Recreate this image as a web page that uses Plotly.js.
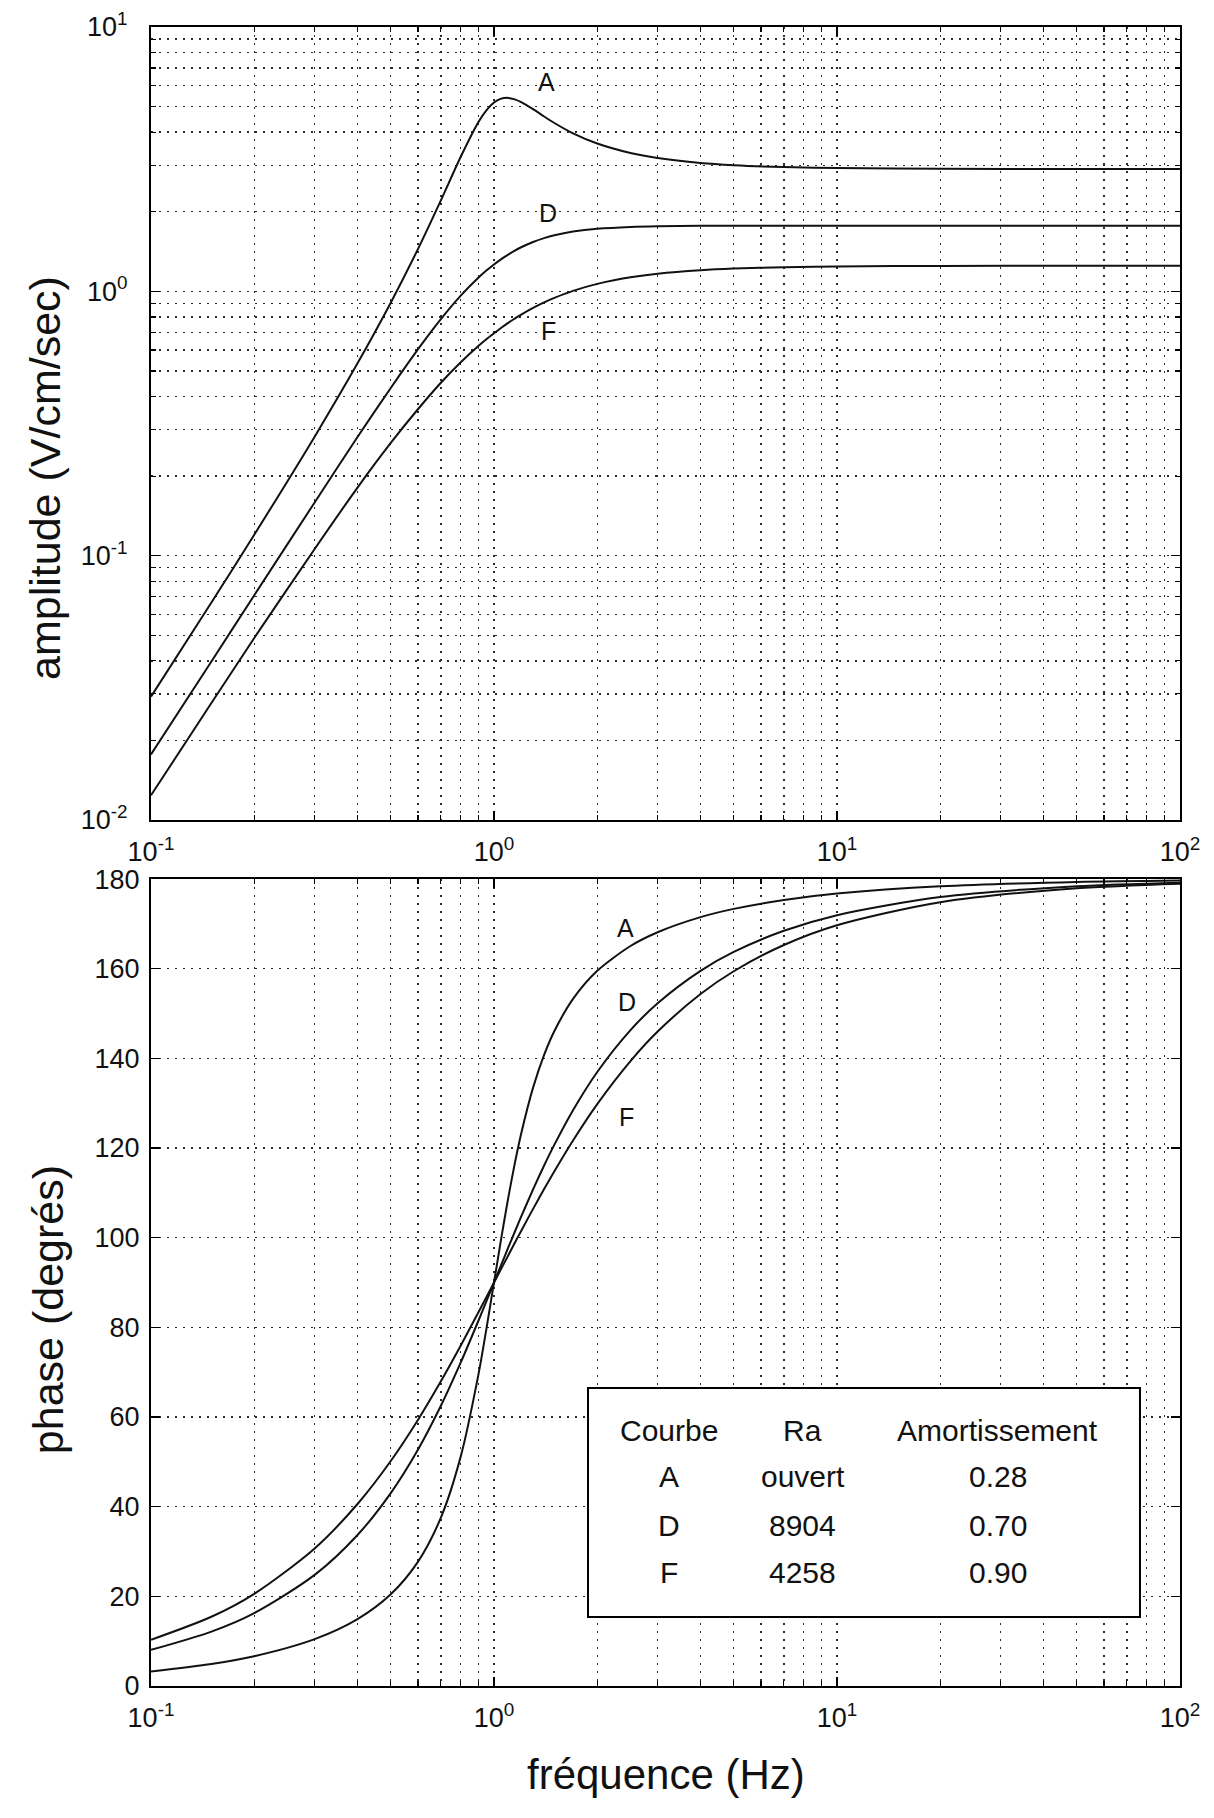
<!DOCTYPE html>
<html>
<head>
<meta charset="utf-8">
<script src="https://cdn.plot.ly/plotly-3.0.1.min.js"></script>
<style>
  html, body { margin: 0; padding: 0; background: #fff; }
  #chart { width: 1214px; height: 1818px; }
</style>
</head>
<body>
<div id="chart"></div>
<script>
// ---- data ----
const freq = [0.1, 0.15, 0.2, 0.3, 0.4, 0.5, 0.6, 0.7, 0.8, 0.9, 0.95, 1.0, 1.05, 1.1, 1.15, 1.2, 1.3, 1.4, 1.5, 1.7, 2, 2.5, 3, 4, 5, 7, 10, 20, 50, 100];

const ampA = [0.0293, 0.0665, 0.120, 0.282, 0.534, 0.906, 1.444, 2.209, 3.229, 4.361, 4.839, 5.179, 5.357, 5.392, 5.325, 5.199, 4.886, 4.586, 4.333, 3.960, 3.623, 3.336, 3.193, 3.059, 3.001, 2.951, 2.925, 2.906, 2.901, 2.900];
const ampD = [0.0177, 0.0398, 0.0708, 0.159, 0.281, 0.431, 0.603, 0.785, 0.963, 1.125, 1.198, 1.264, 1.324, 1.378, 1.426, 1.468, 1.537, 1.590, 1.630, 1.683, 1.725, 1.753, 1.763, 1.769, 1.770, 1.770, 1.770, 1.770, 1.770, 1.770];
const ampF = [0.0124, 0.0277, 0.0488, 0.106, 0.181, 0.267, 0.358, 0.451, 0.539, 0.621, 0.659, 0.694, 0.728, 0.760, 0.789, 0.817, 0.866, 0.909, 0.945, 1.004, 1.067, 1.130, 1.166, 1.202, 1.219, 1.234, 1.242, 1.248, 1.250, 1.250];

const phaseA = [3.24, 4.91, 6.65, 10.46, 14.93, 20.47, 27.70, 37.55, 51.22, 69.35, 79.61, 90, 99.89, 108.82, 116.60, 123.21, 133.47, 140.76, 146.10, 153.27, 159.53, 165.07, 168.14, 171.51, 173.35, 175.33, 176.76, 178.39, 179.36, 179.68];
const phaseD = [8.05, 12.13, 16.26, 24.78, 33.69, 43.03, 52.70, 62.51, 72.18, 81.42, 85.81, 90, 93.99, 97.77, 101.33, 104.68, 110.76, 116.10, 120.76, 128.45, 136.97, 146.31, 152.30, 159.53, 163.74, 168.46, 171.95, 175.99, 178.40, 179.20];
const phaseF = [10.30, 15.44, 20.56, 30.68, 40.60, 50.19, 59.35, 67.96, 75.96, 83.31, 86.74, 90, 93.10, 96.05, 98.86, 101.51, 106.43, 110.85, 114.84, 121.70, 129.81, 139.40, 145.98, 154.36, 159.44, 165.29, 169.70, 174.84, 177.94, 178.97];

const curveNames = ['A', 'D', 'F'];
const raValues = ['ouvert', '8904', '4258'];
const dampValues = ['0.28', '0.70', '0.90'];
const tableHeader = ['Courbe', 'Ra', 'Amortissement'];

const freqTickVals = [0.1, 1, 10, 100];
const freqTickText = ['10<sup>-1</sup>', '10<sup>0</sup>', '10<sup>1</sup>', '10<sup>2</sup>'];
const ampTickVals = [0.01, 0.1, 1, 10];
const ampTickText = ['10<sup>-2</sup>', '10<sup>-1</sup>', '10<sup>0</sup>', '10<sup>1</sup>'];
const phaseTickVals = [0, 20, 40, 60, 80, 100, 120, 140, 160, 180];

// curve label anchors (data units)
const ampLabelFreq = [1.42, 1.44, 1.44];
const ampLabelVal = [6.2, 1.98, 0.71];
const phaseLabelFreq = [2.42, 2.44, 2.44];
const phaseLabelVal = [169, 152.5, 127];

// ---- build ----
function minorLog(lo, hi) {
  const v = [];
  for (let e = lo; e < hi; e++) for (let d = 2; d <= 9; d++) v.push(d * Math.pow(10, e));
  return v;
}

const FONT = 'Liberation Sans, Arial, Helvetica, sans-serif';
const GRIDC = '#2a2a2a';
const GRIDDASH = '2px,6px';
const GRIDW = 1.4;
const TICKFONT = { family: FONT, size: 27, color: '#111' };

const ampSeries = [ampA, ampD, ampF];
const phaseSeries = [phaseA, phaseD, phaseF];

const traces = [];
ampSeries.forEach((s, i) => traces.push({
  x: freq, y: s, xaxis: 'x', yaxis: 'y', type: 'scatter', mode: 'lines',
  name: curveNames[i], line: { color: '#111', width: 2, shape: 'spline', smoothing: 0.8 },
  hoverinfo: 'skip'
}));
phaseSeries.forEach((s, i) => traces.push({
  x: freq, y: s, xaxis: 'x2', yaxis: 'y2', type: 'scatter', mode: 'lines',
  name: curveNames[i], line: { color: '#111', width: 2, shape: 'spline', smoothing: 0.8 },
  hoverinfo: 'skip'
}));

function logXAxis(anchor) {
  return {
    type: 'log', range: [-1, 2], anchor: anchor,
    tickmode: 'array', tickvals: freqTickVals, ticktext: freqTickText,
    ticks: 'inside', ticklen: 9, tickwidth: 1.5, tickcolor: '#000',
    ticklabelstandoff: 7,
    showline: true, linecolor: '#000', linewidth: 2, mirror: 'allticks',
    showgrid: true, gridcolor: GRIDC, griddash: GRIDDASH, gridwidth: GRIDW,
    zeroline: false,
    tickfont: TICKFONT,
    minor: {
      tickmode: 'array', tickvals: minorLog(-1, 2),
      ticks: 'inside', ticklen: 5, tickwidth: 1.2, tickcolor: '#000',
      showgrid: true, gridcolor: GRIDC, griddash: GRIDDASH, gridwidth: GRIDW
    }
  };
}

// plot box: x 151..1180 px, top plot 27..820 px, bottom plot 879..1686 px
const layout = {
  width: 1214, height: 1818,
  paper_bgcolor: '#fff', plot_bgcolor: '#fff',
  showlegend: false,
  margin: { l: 151, r: 34, t: 27, b: 132 },
  font: { family: FONT, color: '#111' },
  xaxis: logXAxis('y'),
  yaxis: {
    type: 'log', range: [-2, 1], domain: [0.522, 1], anchor: 'x',
    tickmode: 'array', tickvals: ampTickVals, ticktext: ampTickText,
    ticks: 'inside', ticklen: 9, tickwidth: 1.5, tickcolor: '#000',
    ticklabelstandoff: 16,
    showline: true, linecolor: '#000', linewidth: 2, mirror: 'allticks',
    showgrid: true, gridcolor: GRIDC, griddash: GRIDDASH, gridwidth: GRIDW,
    zeroline: false,
    tickfont: TICKFONT,
    minor: {
      tickmode: 'array', tickvals: minorLog(-2, 1),
      ticks: 'inside', ticklen: 5, tickwidth: 1.2, tickcolor: '#000',
      showgrid: true, gridcolor: GRIDC, griddash: GRIDDASH, gridwidth: GRIDW
    }
  },
  xaxis2: logXAxis('y2'),
  yaxis2: {
    range: [0, 180], domain: [0, 0.4864], anchor: 'x2',
    tickmode: 'array', tickvals: phaseTickVals,
    ticks: 'inside', ticklen: 9, tickwidth: 1.5, tickcolor: '#000',
    ticklabelstandoff: 4,
    showline: true, linecolor: '#000', linewidth: 2, mirror: 'allticks',
    showgrid: true, gridcolor: GRIDC, griddash: GRIDDASH, gridwidth: GRIDW,
    zeroline: false,
    tickfont: TICKFONT
  },
  shapes: [{
    type: 'rect', xref: 'paper', yref: 'paper', layer: 'above',
    x0: 0.4247, x1: 0.9611, y0: 0.0416, y1: 0.1796,
    line: { color: '#000', width: 2 }, fillcolor: '#fff'
  }],
  annotations: []
};

const ann = layout.annotations;
// axis titles
ann.push({ xref: 'paper', yref: 'paper', x: -0.103, y: 0.7282, text: 'amplitude (V/cm/sec)', textangle: -90,
  showarrow: false, xanchor: 'center', yanchor: 'middle', font: { family: FONT, size: 43, color: '#111' } });
ann.push({ xref: 'paper', yref: 'paper', x: -0.100, y: 0.2266, text: 'phase (degrés)', textangle: -90,
  showarrow: false, xanchor: 'center', yanchor: 'middle', font: { family: FONT, size: 43, color: '#111' } });
ann.push({ xref: 'paper', yref: 'paper', x: 0.5, y: -0.0536, text: 'fréquence (Hz)',
  showarrow: false, xanchor: 'center', yanchor: 'middle', font: { family: FONT, size: 42, color: '#111' } });

// curve labels
curveNames.forEach((n, i) => {
  ann.push({ xref: 'x', yref: 'y', x: Math.log10(ampLabelFreq[i]), y: Math.log10(ampLabelVal[i]), text: n,
    showarrow: false, font: { family: FONT, size: 25, color: '#111' } });
  ann.push({ xref: 'x2', yref: 'y2', x: Math.log10(phaseLabelFreq[i]), y: phaseLabelVal[i], text: n,
    showarrow: false, font: { family: FONT, size: 25, color: '#111' } });
});

// table inside the phase plot
const colX = [0.5034, 0.6336, 0.8231];
const rowY = [0.1543, 0.1260, 0.0970, 0.0687];
const tfont = { family: FONT, size: 30, color: '#111' };
tableHeader.forEach((h, c) => ann.push({ xref: 'paper', yref: 'paper', x: colX[c], y: rowY[0], text: h,
  showarrow: false, xanchor: 'center', yanchor: 'middle', font: tfont }));
curveNames.forEach((n, r) => {
  [n, raValues[r], dampValues[r]].forEach((t, c) => ann.push({ xref: 'paper', yref: 'paper',
    x: colX[c], y: rowY[r + 1], text: t, showarrow: false, xanchor: 'center', yanchor: 'middle', font: tfont }));
});

Plotly.newPlot('chart', traces, layout, { staticPlot: true, displayModeBar: false });
</script>
</body>
</html>
